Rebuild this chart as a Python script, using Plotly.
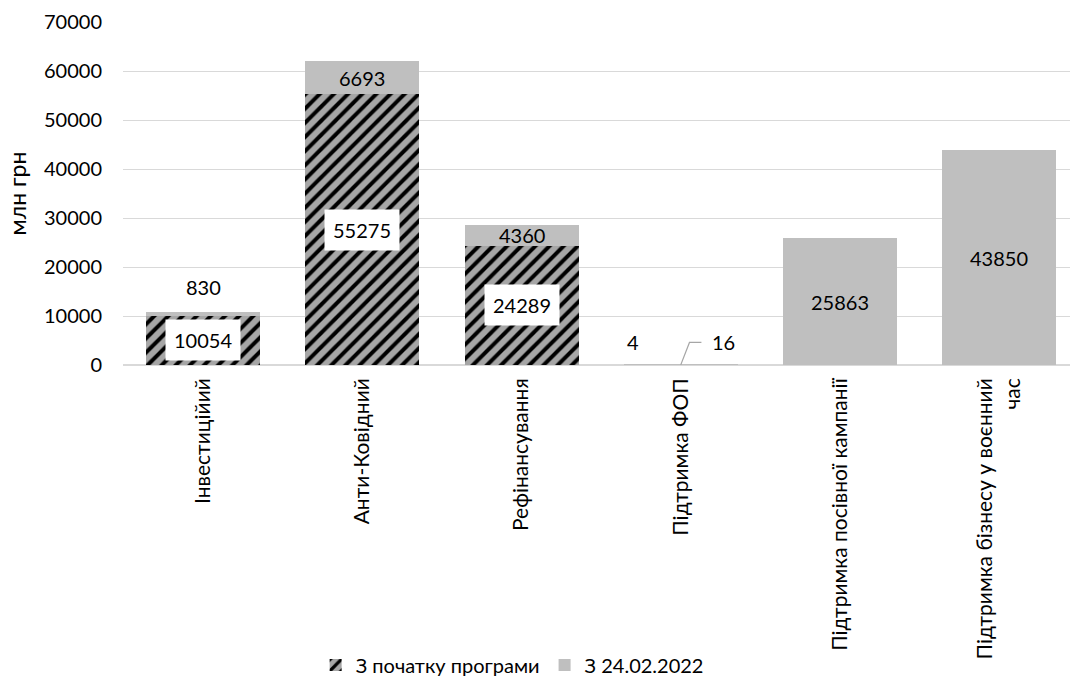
import plotly.graph_objects as go

categories = ["Інвестиційий", "Анти-Ковідний", "Рефінансування", "Підтримка ФОП",
              "Підтримка посівної кампанії", "Підтримка бізнесу у воєнний<br>час"]
since_start = [10054, 55275, 24289, 4, 0, 0]
since_war = [830, 6693, 4360, 16, 25863, 43850]
y_ticks = [0, 10000, 20000, 30000, 40000, 50000, 60000, 70000]

FONT = "Lato"
FS = 20
fig = go.Figure()
fig.add_trace(go.Bar(
    x=categories, y=since_start, name="З початку програми",
    marker=dict(color="#a6a6a6", line=dict(width=0),
                pattern=dict(shape="/", fgcolor="#000000", bgcolor="#a6a6a6",
                             fillmode="overlay", fgopacity=1, size=10, solidity=0.4)),
    width=0.716,
))
fig.add_trace(go.Bar(
    x=categories, y=since_war, name="З 24.02.2022",
    marker=dict(color="#bfbfbf", line=dict(width=0)),
    width=0.716,
))

ann = []
for i, (c, v) in enumerate(zip(categories, since_start)):
    if v >= 1000:
        ann.append(dict(x=c, y=v / 2, text=str(v), showarrow=False,
                        bgcolor="white", borderpad=8,
                        font=dict(family=FONT, size=FS, color="#000")))
    elif v > 0:
        ann.append(dict(x=i - 0.3, y=0, yshift=23, text=str(v), showarrow=False,
                        font=dict(family=FONT, size=FS, color="#000")))
for i, (c, s, v) in enumerate(zip(categories, since_start, since_war)):
    if v >= 3000:
        ann.append(dict(x=c, y=s + v / 2, text=str(v), showarrow=False,
                        font=dict(family=FONT, size=FS, color="#000")))
    elif v >= 100:
        ann.append(dict(x=c, y=s + v, yshift=25, text=str(v), showarrow=False,
                        font=dict(family=FONT, size=FS, color="#000")))
    else:
        ann.append(dict(x=i + 0.27, y=0, yshift=23, text=str(v), showarrow=False,
                        font=dict(family=FONT, size=FS, color="#000")))
        fig.add_shape(type="path", xref="x", yref="y",
                      path=f"M {i} {s + v} L {i + 0.055} 4600 L {i + 0.13} 4600",
                      line=dict(color="#a6a6a6", width=1.2))

fig.update_layout(
    width=1070, height=678,
    margin=dict(l=123, r=0, t=22, b=313),
    barmode="stack",
    plot_bgcolor="white", paper_bgcolor="white",
    font=dict(family=FONT, size=FS, color="#000"),
    annotations=ann,
    showlegend=True,
    legend=dict(orientation="h", xref="container", yref="container",
                x=0.295, xanchor="left", y=0.019, yanchor="middle",
                font=dict(family=FONT, size=FS, color="#000"), itemwidth=30,
                traceorder="normal"),
    yaxis=dict(range=[0, 70000], tickvals=y_ticks, ticktext=[str(t) for t in y_ticks],
               showgrid=True, gridcolor="#d9d9d9", gridwidth=1.3,
               zeroline=True, zerolinecolor="#d9d9d9", zerolinewidth=1.5,
               title=dict(text="млн грн", font=dict(family=FONT, size=23), standoff=10),
               ticks="", ticklabelstandoff=20, automargin=False),
    xaxis=dict(range=[-0.503, 5.445], tickangle=-90, showline=False, ticks="",
               tickfont=dict(size=21), ticklabelstandoff=8, automargin=False),
)

fig.write_html("out.html")
